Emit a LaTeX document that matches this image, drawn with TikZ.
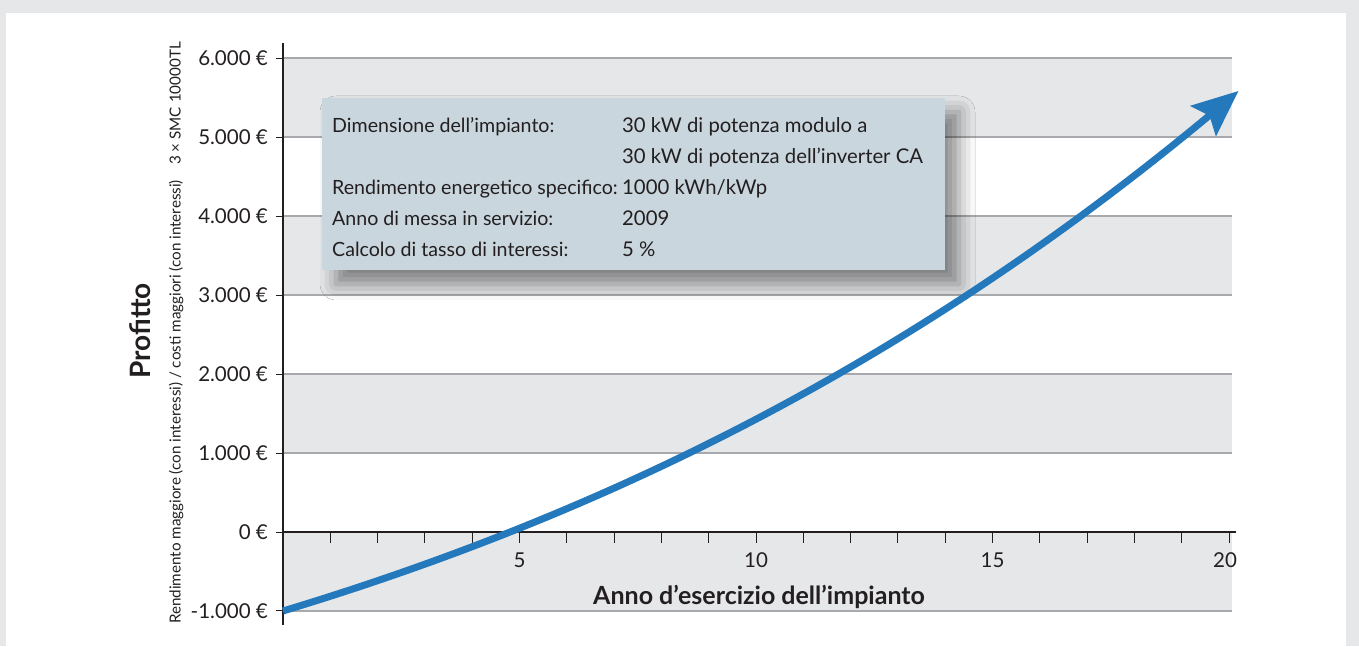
\documentclass[tikz,border=0pt]{standalone}
\usepackage{fontspec}
\setmainfont{Lato}
\usetikzlibrary{arrows.meta,shadows.blur}

\definecolor{framegray}{HTML}{E6E7E8}
\definecolor{bandgray}{HTML}{E6E7E9}
\definecolor{gridgray}{HTML}{A7A9AC}
\definecolor{inkblack}{HTML}{231F20}
\definecolor{curveblue}{HTML}{2479BD}
\definecolor{boxblue}{HTML}{C9D6DD}

\tikzset{
  band/.style={fill=bandgray, draw=none},
  gridline/.style={draw=gridgray, line width=1.2pt},
  axisline/.style={draw=inkblack, line width=2.8pt},
  tickline/.style={draw=inkblack, line width=1pt},
  ticklabel/.style={text=inkblack, inner sep=0pt, font=\fontsize{20.5}{24}\selectfont},
  boxtext/.style={text=inkblack, inner sep=0pt, anchor=base west, font=\fontsize{20.3}{24}\selectfont},
  infobox/.style={fill=boxblue, minimum width=623pt, minimum height=172pt, inner sep=0pt,
    blur shadow={shadow xshift=14pt, shadow yshift=-14pt, shadow blur radius=16pt, shadow opacity=45}},
  growth/.style={draw=curveblue, line width=7pt, -{Stealth[length=46pt, width=39pt, inset=8pt]}},
}

\begin{document}
\begin{tikzpicture}[x=1pt, y=1pt]
    % Frame and panel
    \fill[framegray] (0,0) rectangle (1359,646);
    \fill[white] (6,0) rectangle (1346,633);
    \useasboundingbox (0,0) rectangle (1359,646);

    % Chart in years / euro
    \begin{scope}[shift={(283,114)}, x=47.3pt, y=0.079pt]
        % Grey bands and grid lines
        \foreach \lo in {-1000,1000,3000,5000}
            \fill[band] (0,\lo) rectangle (20.07,\lo+1000);
        \foreach \v in {-1000,1000,2000,3000,4000,5000,6000}
            \draw[gridline] (0,\v) -- (20.07,\v);

        % Value labels and ticks
        \foreach \v/\label in {-1000/-1.000, 0/0, 1000/1.000, 2000/2.000,
                                3000/3.000, 4000/4.000, 5000/5.000, 6000/6.000} {
            \draw[tickline] (0,\v) -- ++(-7pt,0);
            \node[ticklabel, anchor=east] (val\v) at ([xshift=-15pt]0,\v) {\label~€};
        }

        % Year ticks and labels
        \foreach \t in {1,...,20}
            \draw[tickline] (\t,0) -- ++(0,-11pt);
        \foreach \t/\dx in {5/0, 10/0, 15/0, 20/-4} {
            \node[ticklabel] (year\t) at ([xshift=\dx pt, yshift=-28pt]\t,0) {\t};
        }

        % Axes
        \draw[axisline] (0,0) -- (20.15,0);
        \draw[axisline] (0,-1177) -- (0,6190);
    \end{scope}

    % Plant data box
    \node[infobox] (info) at (633.5,462) {};
    \foreach \y/\left/\right [count=\i] in {
        513/{Dimensione dell’impianto:}/{30 kW di potenza modulo a},
        482.2/{}/{30 kW di potenza dell’inverter CA},
        451.4/{Rendimento energetico specifico:}/{1000 kWh/kWp},
        420.6/{Anno di messa in servizio:}/{2009},
        389.8/{Calcolo di tasso di interessi:}/{5 \%}
    } {
        \node[boxtext, font=\fontsize{19.6}{24}\selectfont] (left\i) at (332,\y) {\left};
        \node[boxtext] (right\i) at (622,\y) {\right};
    }

    % Profit curve
    \begin{scope}[shift={(283,114)}, x=47.3pt, y=0.079pt]
        \draw[growth] plot[domain=0:20.2, samples=80, smooth]
            (\x, {-1000+181.3*\x+5.15*\x^2+0.0994*\x^3});
    \end{scope}

    % Axis titles
    \node[text=inkblack, font=\bfseries\fontsize{25}{29}\selectfont] (xtitle) at (759,49)
        {Anno d’esercizio dell’impianto};
    \node[text=inkblack, rotate=90, font=\bfseries\fontsize{28}{32}\selectfont] (ytitle) at (140,315) {Profitto};
    \node[text=inkblack, rotate=90, font=\fontsize{15.2}{17}\selectfont] (ysub) at (176,313)
        {Rendimento maggiore (con interessi) / costi maggiori (con interessi)\quad 3 × SMC 10000TL};
\end{tikzpicture}
\end{document}
